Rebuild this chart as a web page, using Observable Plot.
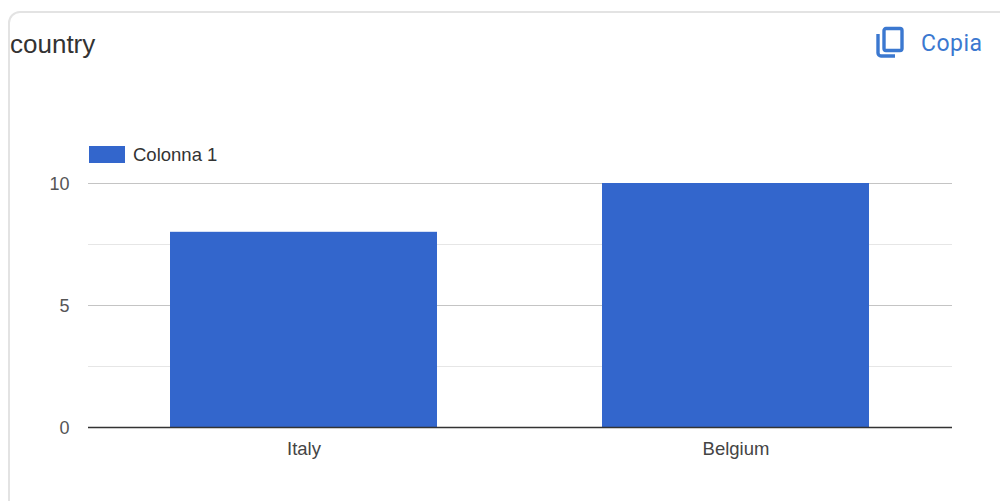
<!DOCTYPE html>
<html>
<head>
<meta charset="utf-8">
<script src="https://cdn.jsdelivr.net/npm/d3@7"></script>
<script src="https://cdn.jsdelivr.net/npm/@observablehq/plot@0.6"></script>
<style>
html,body{margin:0;padding:0;background:#fff;width:1000px;height:501px;overflow:hidden;font-family:"Liberation Sans",Arial,sans-serif}
#wrap{position:relative;width:1000px;height:501px;overflow:hidden}
#card{position:absolute;left:8px;top:11px;width:1100px;height:600px;border:2px solid #e3e3e3;border-radius:12px;box-sizing:border-box}
#chart{position:absolute;left:0;top:0}
#title{position:absolute;left:10px;top:29px;font-size:26px;line-height:30px;color:#333}
#copy{position:absolute;left:921px;top:30px;font:400 23px/28px Roboto,sans-serif;color:#3b78d0;letter-spacing:.5px}
#icon{position:absolute;left:875px;top:26px}
#swatch{position:absolute;left:89px;top:146px;width:36px;height:17px;background:#3366cc}
#legend{position:absolute;left:133px;top:144px;font-size:18.5px;line-height:21px;color:#333}
</style>
</head>
<body>
<div id="wrap">
  <div id="card"></div>
  <div id="chart"></div>
  <div id="title"></div>
  <svg id="icon" width="30" height="33" viewBox="0 0 30 33" fill="none" stroke="#3b78d0" stroke-width="3.4">
    <rect x="9" y="2.5" width="18" height="22" rx="2"></rect>
    <path d="M3 8 V27 a3 3 0 0 0 3 3 H20"></path>
  </svg>
  <div id="copy"></div>
  <div id="swatch"></div>
  <div id="legend"></div>
</div>
<script>
const categories = ["Italy", "Belgium"];
const values = [8, 10];
const majorTicks = [0, 5, 10];
const minorTicks = [2.5, 7.5];
const titleText = "country";
const seriesName = "Colonna 1";
const copyLabel = "Copia";

document.getElementById("title").textContent = titleText;
document.getElementById("legend").textContent = seriesName;
document.getElementById("copy").textContent = copyLabel;

const table = categories.map((c, i) => ({category: c, value: values[i]}));

const plot = Plot.plot({
  width: 1000,
  height: 501,
  marginLeft: 88,
  marginRight: 48,
  marginTop: 183,
  marginBottom: 74,
  style: {background: "transparent", fontFamily: "'Liberation Sans',Arial,sans-serif", fontSize: "18px", color: "#444"},
  x: {domain: categories, range: [87, 951], paddingInner: 0.382, paddingOuter: 0.191, align: 0.5, label: null},
  y: {domain: [0, 10], label: null},
  marks: [
    Plot.ruleY(minorTicks, {stroke: "#e6e6e6", strokeWidth: 1, strokeOpacity: 1}),
    Plot.ruleY(majorTicks.filter(d => d !== 0), {stroke: "#c4c4c4", strokeWidth: 1, strokeOpacity: 1}),
    Plot.barY(table, {x: "category", y: "value", fill: "#3366cc"}),
    Plot.ruleY([0], {stroke: "#333333", strokeWidth: 1.5, strokeOpacity: 1}),
    Plot.axisY({ticks: majorTicks, tickSize: 0, tickPadding: 19, dy: 1, label: null, fill: "#555", fontSize: 18}),
    Plot.axisX({tickSize: 0, tickPadding: 14, label: null, fill: "#444", fontSize: 18.5})
  ]
});
document.getElementById("chart").appendChild(plot);
</script>
</body>
</html>
